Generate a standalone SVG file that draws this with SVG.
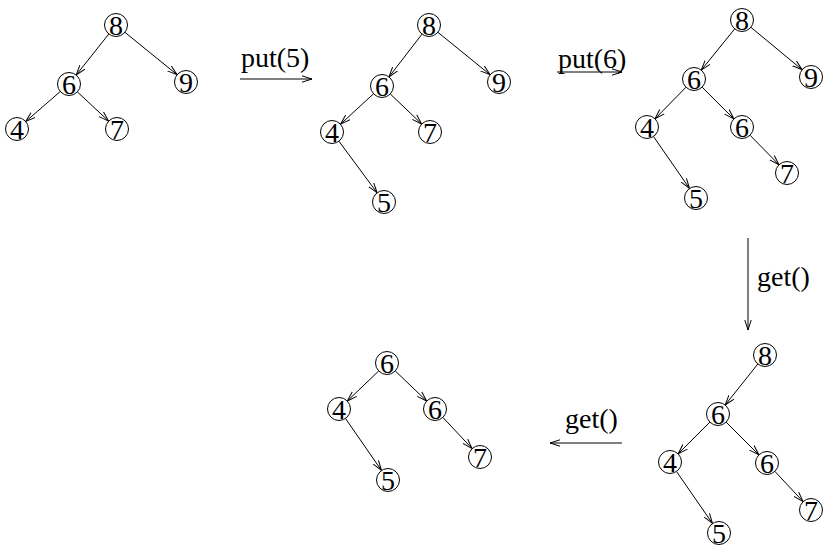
<svg xmlns="http://www.w3.org/2000/svg" width="824" height="547" viewBox="0 0 824 547">
<style>
.n circle{fill:#fff;stroke:#000;stroke-width:1}
.n text{font-family:"Liberation Serif","Times New Roman",serif;font-size:28px;text-anchor:middle;fill:#000}
.e line{stroke:#000;stroke-width:1;marker-end:url(#ah)}
.lbl{font-family:"Liberation Serif","Times New Roman",serif;font-size:28px;fill:#000}
</style>
<defs>
<marker id="ah" markerUnits="userSpaceOnUse" markerWidth="12" markerHeight="8" refX="10" refY="4" orient="auto">
<path d="M0,0.8 L10,4 L0,7.2" fill="none" stroke="#000" stroke-width="1"/>
</marker>
</defs>
<rect width="824" height="547" fill="#fff"/>
<g id="connectors" class="e">
<line x1="108.8" y1="34" x2="76.2" y2="75"/>
<line x1="124.9" y1="32.3" x2="177.1" y2="74.7"/>
<line x1="60.3" y1="91.5" x2="25.7" y2="121.5"/>
<line x1="77.4" y1="91.9" x2="108.6" y2="121.1"/>
<line x1="422" y1="34.1" x2="389" y2="76.9"/>
<line x1="437.9" y1="32.3" x2="490.1" y2="74.7"/>
<line x1="373.5" y1="93.8" x2="340.5" y2="124.2"/>
<line x1="390.3" y1="94" x2="421.7" y2="124"/>
<line x1="338.9" y1="141.2" x2="377.1" y2="192.8"/>
<line x1="734.7" y1="28.9" x2="701.3" y2="70.1"/>
<line x1="750.9" y1="27.3" x2="802.1" y2="69.7"/>
<line x1="686" y1="87.2" x2="655" y2="118.8"/>
<line x1="702.1" y1="87.1" x2="733.9" y2="118.9"/>
<line x1="653.5" y1="136.5" x2="689.5" y2="188.5"/>
<line x1="750" y1="135.2" x2="779" y2="164.8"/>
<line x1="757.8" y1="364" x2="725.2" y2="405"/>
<line x1="709.9" y1="422.1" x2="678.1" y2="453.9"/>
<line x1="726.1" y1="422.1" x2="758.9" y2="454.9"/>
<line x1="676.5" y1="471.5" x2="712.5" y2="523.5"/>
<line x1="774.9" y1="471.4" x2="803.1" y2="501.6"/>
<line x1="378.7" y1="371" x2="347.3" y2="401"/>
<line x1="395.3" y1="371" x2="426.7" y2="401"/>
<line x1="345.5" y1="418.5" x2="381.5" y2="470.5"/>
<line x1="442.9" y1="417.4" x2="472.1" y2="448.6"/>
<line x1="240" y1="79" x2="312" y2="79"/>
<line x1="557" y1="72" x2="622" y2="72"/>
<line x1="748" y1="238" x2="748" y2="330"/>
<line x1="622" y1="443" x2="550" y2="443"/>
</g>
<g id="labels">
<text class="lbl" x="241" y="67">put(5)</text>
<text class="lbl" x="558" y="68">put(6)</text>
<text class="lbl" x="757" y="286">get()</text>
<text class="lbl" x="565" y="428">get()</text>
</g>
<g id="t1-8" class="n"><circle cx="116" cy="25" r="11.5"/><text x="116" y="34.5">8</text></g>
<g id="t1-6" class="n"><circle cx="69" cy="84" r="11.5"/><text x="69" y="93.5">6</text></g>
<g id="t1-9" class="n"><circle cx="186" cy="82" r="11.5"/><text x="186" y="91.5">9</text></g>
<g id="t1-4" class="n"><circle cx="17" cy="129" r="11.5"/><text x="17" y="138.5">4</text></g>
<g id="t1-7" class="n"><circle cx="117" cy="129" r="11.5"/><text x="117" y="138.5">7</text></g>
<g id="t2-8" class="n"><circle cx="429" cy="25" r="11.5"/><text x="429" y="34.5">8</text></g>
<g id="t2-6" class="n"><circle cx="382" cy="86" r="11.5"/><text x="382" y="95.5">6</text></g>
<g id="t2-9" class="n"><circle cx="499" cy="82" r="11.5"/><text x="499" y="91.5">9</text></g>
<g id="t2-4" class="n"><circle cx="332" cy="132" r="11.5"/><text x="332" y="141.5">4</text></g>
<g id="t2-7" class="n"><circle cx="430" cy="132" r="11.5"/><text x="430" y="141.5">7</text></g>
<g id="t2-5" class="n"><circle cx="384" cy="202" r="11.5"/><text x="384" y="211.5">5</text></g>
<g id="t3-8" class="n"><circle cx="742" cy="20" r="11.5"/><text x="742" y="29.5">8</text></g>
<g id="t3-9" class="n"><circle cx="811" cy="77" r="11.5"/><text x="811" y="86.5">9</text></g>
<g id="t3-6" class="n"><circle cx="694" cy="79" r="11.5"/><text x="694" y="88.5">6</text></g>
<g id="t3-4" class="n"><circle cx="647" cy="127" r="11.5"/><text x="647" y="136.5">4</text></g>
<g id="t3-6b" class="n"><circle cx="742" cy="127" r="11.5"/><text x="742" y="136.5">6</text></g>
<g id="t3-7" class="n"><circle cx="787" cy="173" r="11.5"/><text x="787" y="182.5">7</text></g>
<g id="t3-5" class="n"><circle cx="696" cy="198" r="11.5"/><text x="696" y="207.5">5</text></g>
<g id="t4-8" class="n"><circle cx="765" cy="355" r="11.5"/><text x="765" y="364.5">8</text></g>
<g id="t4-6" class="n"><circle cx="718" cy="414" r="11.5"/><text x="718" y="423.5">6</text></g>
<g id="t4-4" class="n"><circle cx="670" cy="462" r="11.5"/><text x="670" y="471.5">4</text></g>
<g id="t4-6b" class="n"><circle cx="767" cy="463" r="11.5"/><text x="767" y="472.5">6</text></g>
<g id="t4-7" class="n"><circle cx="811" cy="510" r="11.5"/><text x="811" y="519.5">7</text></g>
<g id="t4-5" class="n"><circle cx="719" cy="533" r="11.5"/><text x="719" y="542.5">5</text></g>
<g id="t5-6" class="n"><circle cx="387" cy="363" r="11.5"/><text x="387" y="372.5">6</text></g>
<g id="t5-4" class="n"><circle cx="339" cy="409" r="11.5"/><text x="339" y="418.5">4</text></g>
<g id="t5-6b" class="n"><circle cx="435" cy="409" r="11.5"/><text x="435" y="418.5">6</text></g>
<g id="t5-7" class="n"><circle cx="480" cy="457" r="11.5"/><text x="480" y="466.5">7</text></g>
<g id="t5-5" class="n"><circle cx="388" cy="480" r="11.5"/><text x="388" y="489.5">5</text></g>
</svg>
